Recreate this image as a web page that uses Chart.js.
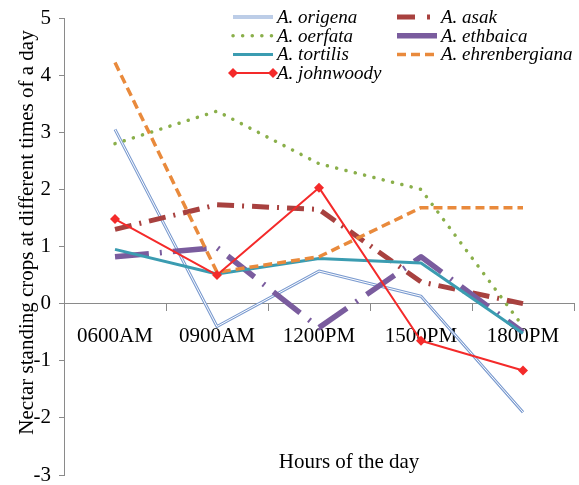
<!DOCTYPE html>
<html>
<head>
<meta charset="utf-8">
<title>Nectar standing crops</title>
<script src="https://cdn.jsdelivr.net/npm/chart.js@4.4.0/dist/chart.umd.min.js"></script>
<style>
	html, body { margin: 0; padding: 0; background: #fff; }
	#caja { position: relative; width: 579px; height: 485px; }
</style>
</head>
<body>
<div id="caja"><canvas id="grafico"></canvas></div>

<script>
	// datos
	var horas = ['0600AM', '0900AM', '1200PM', '1500PM', '1800PM'];
	var origena = [3.05, -0.40, 0.57, 0.13, -1.90];
	var asak = [1.30, 1.73, 1.65, 0.38, 0.00];
	var oerfata = [2.80, 3.37, 2.45, 2.00, -0.40];
	var ethbaica = [0.82, 0.98, -0.42, 0.82, -0.50];
	var tortilis = [0.95, 0.52, 0.79, 0.71, -0.52];
	var ehrenbergiana = [4.22, 0.55, 0.82, 1.68, 1.68];
	var johnwoody = [1.48, 0.50, 2.03, -0.65, -1.17];
	var yTicks = [-3, -2, -1, 0, 1, 2, 3, 4, 5];

	var serif = '"Liberation Serif", "Times New Roman", serif';

	// leyenda en dos columnas + titulos de los ejes
	var leyenda = {
		id: 'leyenda',
		afterDraw: function(chart) {
			var ctx = chart.ctx;
			var items = chart.data.datasets.filter(function(d){ return !d.sinLeyenda; });
			items.forEach(function(ds, i) {
				var x0 = (i % 2 == 0) ? 233 : 397;
				var y = 17 + Math.floor(i / 2) * 18.7;
				ctx.save();
				ctx.strokeStyle = ds.borderColor;
				ctx.lineWidth = ds.borderWidth;
				ctx.lineCap = ds.borderCapStyle || 'butt';
				ctx.setLineDash(ds.dashLeyenda || ds.borderDash || []);
				ctx.beginPath();
				ctx.moveTo(x0, y);
				ctx.lineTo(x0 + 40, y);
				ctx.stroke();
				if (ds.doble) {
					ctx.strokeStyle = '#fff';
					ctx.lineWidth = 1;
					ctx.beginPath();
					ctx.moveTo(x0, y);
					ctx.lineTo(x0 + 40, y);
					ctx.stroke();
				}
				if (ds.pointRadius > 0) {
					ctx.setLineDash([]);
					ctx.fillStyle = ds.pointBackgroundColor;
					[x0, x0 + 40].forEach(function(px) {
						ctx.beginPath();
						ctx.moveTo(px - 5, y);
						ctx.lineTo(px, y - 5);
						ctx.lineTo(px + 5, y);
						ctx.lineTo(px, y + 5);
						ctx.closePath();
						ctx.fill();
					});
				}
				ctx.fillStyle = '#000';
				ctx.font = 'italic 19px ' + serif;
				ctx.textBaseline = 'middle';
				ctx.fillText(ds.label, x0 + 44, y + 1);
				ctx.restore();
			});

			var a = chart.chartArea;
			ctx.save();
			ctx.fillStyle = '#000';
			ctx.font = '21px ' + serif;
			ctx.textAlign = 'center';
			ctx.textBaseline = 'middle';
			// eje x, abajo
			ctx.fillText('Hours of the day', (a.left + a.right) / 2 + 30, a.bottom - 13);
			// eje y, vertical
			ctx.translate(27, (a.top + a.bottom) / 2 - 14);
			ctx.rotate(-Math.PI / 2);
			ctx.fillText('Nectar standing crops at different times of a day', 0, 0);
			ctx.restore();
		}
	};

	var chartdata = {
		labels: horas,
		datasets: [
		{
			label: 'A. origena',
			data: origena,
			borderColor: '#7b9bd0',
			borderWidth: 3,
			doble: true,
			order: 10
		},
		{
			label: 'origena interior',
			data: origena,
			borderColor: '#ffffff',
			borderWidth: 1,
			sinLeyenda: true,
			order: 9.5
		},
		{
			label: 'A. asak',
			data: asak,
			borderColor: '#a8413f',
			borderWidth: 5,
			borderDash: [17, 8, 2, 8],
			dashLeyenda: [18, 12, 3, 8],
			order: 9
		},
		{
			label: 'A. oerfata',
			data: oerfata,
			borderColor: '#8aaf4a',
			borderWidth: 3.5,
			borderDash: [0.1, 9.5],
			borderCapStyle: 'round',
			order: 8
		},
		{
			label: 'A. ethbaica',
			data: ethbaica,
			borderColor: '#7a5c9e',
			borderWidth: 5.5,
			borderDash: [34, 11, 2, 11],
			dashLeyenda: [],
			order: 7
		},
		{
			label: 'A. tortilis',
			data: tortilis,
			borderColor: '#3b9cb1',
			borderWidth: 3,
			order: 6
		},
		{
			label: 'A. ehrenbergiana',
			data: ehrenbergiana,
			borderColor: '#e98a3c',
			borderWidth: 3.5,
			borderDash: [9, 5],
			order: 5
		},
		{
			label: 'A. johnwoody',
			data: johnwoody,
			borderColor: '#f42a2a',
			borderWidth: 2,
			pointStyle: 'rectRot',
			pointRadius: 5,
			pointBackgroundColor: '#f42a2a',
			pointBorderColor: '#f42a2a',
			pointBorderWidth: 0,
			order: 4
		}
		]
	};

	chartdata.datasets.forEach(function(d) {
		d.fill = false;
		d.tension = 0;
		d.borderJoinStyle = 'round';
		if (d.pointRadius === undefined) d.pointRadius = 0;
	});

	var grafico = new Chart(document.getElementById('grafico'), {
		type: 'line',
		data: chartdata,
		options: {
			responsive: true,
			maintainAspectRatio: false,
			animation: false,
			layout: { padding: { left: 0, top: 18, right: 1, bottom: 10 } },
			plugins: {
				legend: { display: false },
				tooltip: { enabled: false }
			},
			scales: {
				x: {
					position: { y: 0 },
					offset: true,
					grid: { offset: true, drawOnChartArea: false, tickLength: 7, color: '#8a8a8a' },
					border: { color: '#8a8a8a' },
					ticks: { font: { family: serif, size: 21 }, color: '#000', padding: 13, maxRotation: 0 }
				},
				y: {
					min: yTicks[0],
					max: yTicks[yTicks.length - 1],
					afterBuildTicks: function(s) {
						s.ticks = yTicks.map(function(v){ return { value: v }; });
					},
					afterFit: function(s) {
						s.width = 64;
						s.paddingTop = 8;
						s.paddingBottom = 8;
					},
					grid: { drawOnChartArea: false, tickLength: 5, color: '#8a8a8a' },
					border: { color: '#8a8a8a' },
					ticks: { font: { family: serif, size: 21, lineHeight: 1 }, color: '#000', padding: 8 }
				}
			}
		},
		plugins: [leyenda]
	});
</script>
</body>
</html>
